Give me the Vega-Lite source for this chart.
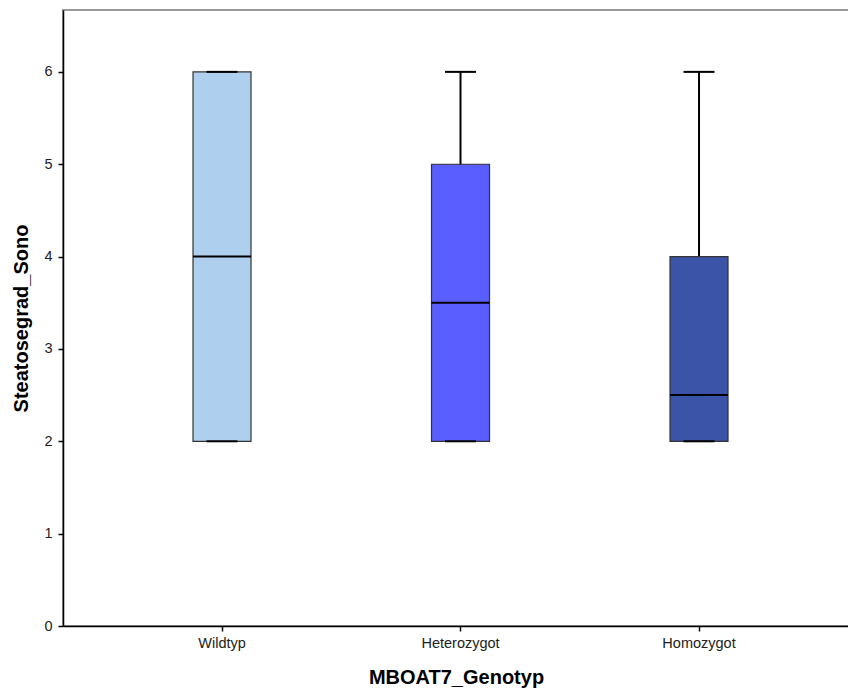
{
  "$schema": "https://vega.github.io/schema/vega-lite/v6.json",
  "autosize": "none",
  "padding": {"left": 63, "top": 10, "right": 0, "bottom": 65},
  "width": 786,
  "height": 616,
  "background": "white",
  "config": {
    "font": "Liberation Sans",
    "view": {"stroke": "#999999", "strokeWidth": 2},
    "axis": {
      "domainColor": "#000000",
      "domainWidth": 1.5,
      "tickColor": "#000000",
      "tickSize": 5,
      "tickWidth": 1.5,
      "labelFont": "Liberation Sans",
      "labelFontSize": 14.5,
      "labelColor": "#222222",
      "titleFont": "Liberation Sans",
      "titleFontSize": 20,
      "titleFontWeight": "bold",
      "titleColor": "#000000",
      "grid": false
    }
  },
  "data": {
    "values": [
      {"genotyp": "Wildtyp", "lower": 2, "q1": 2, "median": 4, "q3": 6, "upper": 6},
      {"genotyp": "Heterozygot", "lower": 2, "q1": 2, "median": 3.5, "q3": 5, "upper": 6},
      {"genotyp": "Homozygot", "lower": 2, "q1": 2, "median": 2.5, "q3": 4, "upper": 6}
    ]
  },
  "encoding": {
    "x": {
      "field": "genotyp",
      "type": "nominal",
      "sort": ["Wildtyp", "Heterozygot", "Homozygot"],
      "scale": {"paddingInner": 0, "paddingOuter": 0.1478, "align": 0.564},
      "axis": {"title": "MBOAT7_Genotyp", "labelAngle": 0, "labelPadding": 5, "titlePadding": 18}
    }
  },
  "layer": [
    {
      "mark": {"type": "rule", "color": "#000000", "strokeWidth": 2},
      "encoding": {
        "y": {
          "field": "lower",
          "type": "quantitative",
          "scale": {"domain": [0, 6.67], "nice": false, "zero": true},
          "axis": {"title": "Steatosegrad_Sono", "values": [0, 1, 2, 3, 4, 5, 6], "format": "d", "labelPadding": 6, "titlePadding": 12}
        },
        "y2": {"field": "upper"}
      }
    },
    {
      "mark": {"type": "bar", "size": 58, "stroke": "#333333", "strokeWidth": 1.2},
      "encoding": {
        "y": {"field": "q1", "type": "quantitative"},
        "y2": {"field": "q3"},
        "fill": {
          "field": "genotyp",
          "type": "nominal",
          "scale": {"domain": ["Wildtyp", "Heterozygot", "Homozygot"], "range": ["#aecfee", "#5b5eff", "#3c54a8"]},
          "legend": null
        }
      }
    },
    {
      "mark": {"type": "tick", "size": 58, "thickness": 2, "color": "#000000", "opacity": 1},
      "encoding": {"y": {"field": "median", "type": "quantitative"}}
    },
    {
      "mark": {"type": "tick", "size": 31, "thickness": 2, "color": "#000000", "opacity": 1},
      "encoding": {"y": {"field": "upper", "type": "quantitative"}}
    },
    {
      "mark": {"type": "tick", "size": 31, "thickness": 2, "color": "#000000", "opacity": 1},
      "encoding": {"y": {"field": "lower", "type": "quantitative"}}
    }
  ]
}
